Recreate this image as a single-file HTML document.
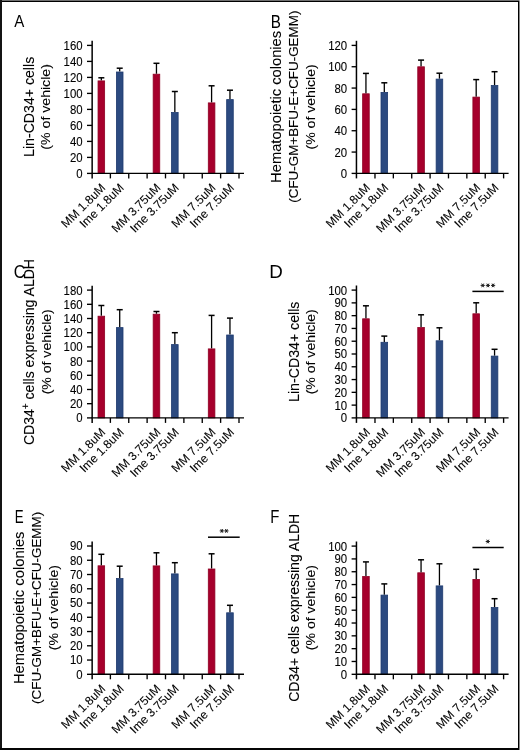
<!DOCTYPE html>
<html><head><meta charset="utf-8"><style>
html,body{margin:0;padding:0;background:#fff;}
body{width:520px;height:750px;overflow:hidden;position:relative;}
svg{position:absolute;left:0;top:0;will-change:transform;}
text{font-family:"Liberation Sans", sans-serif;fill:#000;stroke:#000;stroke-width:0.1px;}
</style></head><body>
<svg width="520" height="750" viewBox="0 0 520 750">
<line x1="101.34" y1="77.8" x2="101.34" y2="80.5" stroke="#000" stroke-width="1.3"/>
<line x1="98.34" y1="77.8" x2="104.34" y2="77.8" stroke="#000" stroke-width="1.5"/>
<rect x="98.04" y="80.9" width="6.6" height="92.5" fill="#a6002c" stroke="#8f0024" stroke-width="0.8"/>
<line x1="119.71" y1="68.2" x2="119.71" y2="71.6" stroke="#000" stroke-width="1.3"/>
<line x1="116.71" y1="68.2" x2="122.71" y2="68.2" stroke="#000" stroke-width="1.5"/>
<rect x="116.41" y="72" width="6.6" height="101.4" fill="#2c4a80" stroke="#1e3a6e" stroke-width="0.8"/>
<line x1="156.46" y1="63.3" x2="156.46" y2="73.8" stroke="#000" stroke-width="1.3"/>
<line x1="153.46" y1="63.3" x2="159.46" y2="63.3" stroke="#000" stroke-width="1.5"/>
<rect x="153.16" y="74.2" width="6.6" height="99.2" fill="#a6002c" stroke="#8f0024" stroke-width="0.8"/>
<line x1="174.84" y1="91.5" x2="174.84" y2="112.1" stroke="#000" stroke-width="1.3"/>
<line x1="171.84" y1="91.5" x2="177.84" y2="91.5" stroke="#000" stroke-width="1.5"/>
<rect x="171.54" y="112.5" width="6.6" height="60.9" fill="#2c4a80" stroke="#1e3a6e" stroke-width="0.8"/>
<line x1="211.59" y1="85.8" x2="211.59" y2="102.5" stroke="#000" stroke-width="1.3"/>
<line x1="208.59" y1="85.8" x2="214.59" y2="85.8" stroke="#000" stroke-width="1.5"/>
<rect x="208.29" y="102.9" width="6.6" height="70.5" fill="#a6002c" stroke="#8f0024" stroke-width="0.8"/>
<line x1="229.96" y1="90.2" x2="229.96" y2="99.2" stroke="#000" stroke-width="1.3"/>
<line x1="226.96" y1="90.2" x2="232.96" y2="90.2" stroke="#000" stroke-width="1.5"/>
<rect x="226.66" y="99.6" width="6.6" height="73.8" fill="#2c4a80" stroke="#1e3a6e" stroke-width="0.8"/>
<line x1="92.15" y1="40.8" x2="92.15" y2="178.4" stroke="#000" stroke-width="1.5"/>
<line x1="91.5" y1="173.4" x2="244" y2="173.4" stroke="#000" stroke-width="1.4"/>
<line x1="110.38" y1="173.4" x2="110.38" y2="178.4" stroke="#000" stroke-width="1.35"/>
<line x1="128.75" y1="173.4" x2="128.75" y2="178.4" stroke="#000" stroke-width="1.35"/>
<line x1="147.12" y1="173.4" x2="147.12" y2="178.4" stroke="#000" stroke-width="1.35"/>
<line x1="165.5" y1="173.4" x2="165.5" y2="178.4" stroke="#000" stroke-width="1.35"/>
<line x1="183.88" y1="173.4" x2="183.88" y2="178.4" stroke="#000" stroke-width="1.35"/>
<line x1="202.25" y1="173.4" x2="202.25" y2="178.4" stroke="#000" stroke-width="1.35"/>
<line x1="220.62" y1="173.4" x2="220.62" y2="178.4" stroke="#000" stroke-width="1.35"/>
<line x1="239" y1="173.4" x2="239" y2="178.4" stroke="#000" stroke-width="1.35"/>
<line x1="87" y1="173.4" x2="92" y2="173.4" stroke="#000" stroke-width="1.35"/>
<text x="82.6" y="177.85" text-anchor="end" font-size="12.0" textLength="6.34" lengthAdjust="spacingAndGlyphs">0</text>
<line x1="87" y1="157.4" x2="92" y2="157.4" stroke="#000" stroke-width="1.35"/>
<text x="82.6" y="161.85" text-anchor="end" font-size="12.0" textLength="12.68" lengthAdjust="spacingAndGlyphs">20</text>
<line x1="87" y1="141.4" x2="92" y2="141.4" stroke="#000" stroke-width="1.35"/>
<text x="82.6" y="145.85" text-anchor="end" font-size="12.0" textLength="12.68" lengthAdjust="spacingAndGlyphs">40</text>
<line x1="87" y1="125.4" x2="92" y2="125.4" stroke="#000" stroke-width="1.35"/>
<text x="82.6" y="129.85" text-anchor="end" font-size="12.0" textLength="12.68" lengthAdjust="spacingAndGlyphs">60</text>
<line x1="87" y1="109.4" x2="92" y2="109.4" stroke="#000" stroke-width="1.35"/>
<text x="82.6" y="113.85" text-anchor="end" font-size="12.0" textLength="12.68" lengthAdjust="spacingAndGlyphs">80</text>
<line x1="87" y1="93.4" x2="92" y2="93.4" stroke="#000" stroke-width="1.35"/>
<text x="82.6" y="97.85" text-anchor="end" font-size="12.0" textLength="19.02" lengthAdjust="spacingAndGlyphs">100</text>
<line x1="87" y1="77.4" x2="92" y2="77.4" stroke="#000" stroke-width="1.35"/>
<text x="82.6" y="81.85" text-anchor="end" font-size="12.0" textLength="19.02" lengthAdjust="spacingAndGlyphs">120</text>
<line x1="87" y1="61.4" x2="92" y2="61.4" stroke="#000" stroke-width="1.35"/>
<text x="82.6" y="65.85" text-anchor="end" font-size="12.0" textLength="19.02" lengthAdjust="spacingAndGlyphs">140</text>
<line x1="87" y1="45.4" x2="92" y2="45.4" stroke="#000" stroke-width="1.35"/>
<text x="82.6" y="49.85" text-anchor="end" font-size="12.0" textLength="19.02" lengthAdjust="spacingAndGlyphs">160</text>
<text x="106.19" y="188.5" text-anchor="end" font-size="12.0" transform="rotate(-45 106.19 188.5)">MM 1.8uM</text>
<text x="124.56" y="188.5" text-anchor="end" font-size="12.0" transform="rotate(-45 124.56 188.5)">Ime 1.8uM</text>
<text x="161.31" y="188.5" text-anchor="end" font-size="12.0" transform="rotate(-45 161.31 188.5)">MM 3.75uM</text>
<text x="179.69" y="188.5" text-anchor="end" font-size="12.0" transform="rotate(-45 179.69 188.5)">Ime 3.75uM</text>
<text x="216.44" y="188.5" text-anchor="end" font-size="12.0" transform="rotate(-45 216.44 188.5)">MM 7.5uM</text>
<text x="234.81" y="188.5" text-anchor="end" font-size="12.0" transform="rotate(-45 234.81 188.5)">Ime 7.5uM</text>
<text x="0" y="0" font-size="17" transform="translate(14.17 27.1) scale(0.889 1)" style="stroke-width:0">A</text>
<text x="0" y="0" font-size="14.5" textLength="100.15" lengthAdjust="spacingAndGlyphs" transform="translate(34.1 156.93) rotate(-90)">Lin-CD34+ cells</text>
<text x="0" y="0" font-size="13.6" textLength="85.53" lengthAdjust="spacingAndGlyphs" transform="translate(50.4 149.65) rotate(-90)">(% of vehicle)</text>
<line x1="365.94" y1="73.4" x2="365.94" y2="93.4" stroke="#000" stroke-width="1.3"/>
<line x1="362.94" y1="73.4" x2="368.94" y2="73.4" stroke="#000" stroke-width="1.5"/>
<rect x="362.64" y="93.8" width="6.6" height="79.6" fill="#a6002c" stroke="#8f0024" stroke-width="0.8"/>
<line x1="384.31" y1="82.8" x2="384.31" y2="92" stroke="#000" stroke-width="1.3"/>
<line x1="381.31" y1="82.8" x2="387.31" y2="82.8" stroke="#000" stroke-width="1.5"/>
<rect x="381.01" y="92.4" width="6.6" height="81" fill="#2c4a80" stroke="#1e3a6e" stroke-width="0.8"/>
<line x1="421.06" y1="60.1" x2="421.06" y2="66.4" stroke="#000" stroke-width="1.3"/>
<line x1="418.06" y1="60.1" x2="424.06" y2="60.1" stroke="#000" stroke-width="1.5"/>
<rect x="417.76" y="66.8" width="6.6" height="106.6" fill="#a6002c" stroke="#8f0024" stroke-width="0.8"/>
<line x1="439.44" y1="73.2" x2="439.44" y2="78.7" stroke="#000" stroke-width="1.3"/>
<line x1="436.44" y1="73.2" x2="442.44" y2="73.2" stroke="#000" stroke-width="1.5"/>
<rect x="436.14" y="79.1" width="6.6" height="94.3" fill="#2c4a80" stroke="#1e3a6e" stroke-width="0.8"/>
<line x1="476.19" y1="79.6" x2="476.19" y2="96.7" stroke="#000" stroke-width="1.3"/>
<line x1="473.19" y1="79.6" x2="479.19" y2="79.6" stroke="#000" stroke-width="1.5"/>
<rect x="472.89" y="97.1" width="6.6" height="76.3" fill="#a6002c" stroke="#8f0024" stroke-width="0.8"/>
<line x1="494.56" y1="71.7" x2="494.56" y2="85.1" stroke="#000" stroke-width="1.3"/>
<line x1="491.56" y1="71.7" x2="497.56" y2="71.7" stroke="#000" stroke-width="1.5"/>
<rect x="491.26" y="85.5" width="6.6" height="87.9" fill="#2c4a80" stroke="#1e3a6e" stroke-width="0.8"/>
<line x1="356.45" y1="40.8" x2="356.45" y2="178.4" stroke="#000" stroke-width="1.5"/>
<line x1="356.1" y1="173.4" x2="508.6" y2="173.4" stroke="#000" stroke-width="1.4"/>
<line x1="374.98" y1="173.4" x2="374.98" y2="178.4" stroke="#000" stroke-width="1.35"/>
<line x1="393.35" y1="173.4" x2="393.35" y2="178.4" stroke="#000" stroke-width="1.35"/>
<line x1="411.73" y1="173.4" x2="411.73" y2="178.4" stroke="#000" stroke-width="1.35"/>
<line x1="430.1" y1="173.4" x2="430.1" y2="178.4" stroke="#000" stroke-width="1.35"/>
<line x1="448.48" y1="173.4" x2="448.48" y2="178.4" stroke="#000" stroke-width="1.35"/>
<line x1="466.85" y1="173.4" x2="466.85" y2="178.4" stroke="#000" stroke-width="1.35"/>
<line x1="485.23" y1="173.4" x2="485.23" y2="178.4" stroke="#000" stroke-width="1.35"/>
<line x1="503.6" y1="173.4" x2="503.6" y2="178.4" stroke="#000" stroke-width="1.35"/>
<line x1="351.6" y1="173.4" x2="356.6" y2="173.4" stroke="#000" stroke-width="1.35"/>
<text x="347.2" y="177.85" text-anchor="end" font-size="12.0" textLength="6.34" lengthAdjust="spacingAndGlyphs">0</text>
<line x1="351.6" y1="152.07" x2="356.6" y2="152.07" stroke="#000" stroke-width="1.35"/>
<text x="347.2" y="156.52" text-anchor="end" font-size="12.0" textLength="12.68" lengthAdjust="spacingAndGlyphs">20</text>
<line x1="351.6" y1="130.73" x2="356.6" y2="130.73" stroke="#000" stroke-width="1.35"/>
<text x="347.2" y="135.18" text-anchor="end" font-size="12.0" textLength="12.68" lengthAdjust="spacingAndGlyphs">40</text>
<line x1="351.6" y1="109.4" x2="356.6" y2="109.4" stroke="#000" stroke-width="1.35"/>
<text x="347.2" y="113.85" text-anchor="end" font-size="12.0" textLength="12.68" lengthAdjust="spacingAndGlyphs">60</text>
<line x1="351.6" y1="88.07" x2="356.6" y2="88.07" stroke="#000" stroke-width="1.35"/>
<text x="347.2" y="92.52" text-anchor="end" font-size="12.0" textLength="12.68" lengthAdjust="spacingAndGlyphs">80</text>
<line x1="351.6" y1="66.73" x2="356.6" y2="66.73" stroke="#000" stroke-width="1.35"/>
<text x="347.2" y="71.18" text-anchor="end" font-size="12.0" textLength="19.02" lengthAdjust="spacingAndGlyphs">100</text>
<line x1="351.6" y1="45.4" x2="356.6" y2="45.4" stroke="#000" stroke-width="1.35"/>
<text x="347.2" y="49.85" text-anchor="end" font-size="12.0" textLength="19.02" lengthAdjust="spacingAndGlyphs">120</text>
<text x="370.79" y="188.5" text-anchor="end" font-size="12.0" transform="rotate(-45 370.79 188.5)">MM 1.8uM</text>
<text x="389.16" y="188.5" text-anchor="end" font-size="12.0" transform="rotate(-45 389.16 188.5)">Ime 1.8uM</text>
<text x="425.91" y="188.5" text-anchor="end" font-size="12.0" transform="rotate(-45 425.91 188.5)">MM 3.75uM</text>
<text x="444.29" y="188.5" text-anchor="end" font-size="12.0" transform="rotate(-45 444.29 188.5)">Ime 3.75uM</text>
<text x="481.04" y="188.5" text-anchor="end" font-size="12.0" transform="rotate(-45 481.04 188.5)">MM 7.5uM</text>
<text x="499.41" y="188.5" text-anchor="end" font-size="12.0" transform="rotate(-45 499.41 188.5)">Ime 7.5uM</text>
<text x="0" y="0" font-size="17.8" transform="translate(270.75 28) scale(0.857 1)" style="stroke-width:0">B</text>
<text x="0" y="0" font-size="14" textLength="151.98" lengthAdjust="spacingAndGlyphs" transform="translate(281.2 182.88) rotate(-90)">Hematopoietic colonies</text>
<text x="0" y="0" font-size="13.5" textLength="192.04" lengthAdjust="spacingAndGlyphs" transform="translate(297.9 202.7) rotate(-90)">(CFU-GM+BFU-E+CFU-GEMM)</text>
<text x="0" y="0" font-size="13.6" textLength="85.33" lengthAdjust="spacingAndGlyphs" transform="translate(315.2 149.55) rotate(-90)">(% of vehicle)</text>
<line x1="101.34" y1="305.5" x2="101.34" y2="315.8" stroke="#000" stroke-width="1.3"/>
<line x1="98.34" y1="305.5" x2="104.34" y2="305.5" stroke="#000" stroke-width="1.5"/>
<rect x="98.04" y="316.2" width="6.6" height="101.7" fill="#a6002c" stroke="#8f0024" stroke-width="0.8"/>
<line x1="119.71" y1="309.7" x2="119.71" y2="327.2" stroke="#000" stroke-width="1.3"/>
<line x1="116.71" y1="309.7" x2="122.71" y2="309.7" stroke="#000" stroke-width="1.5"/>
<rect x="116.41" y="327.6" width="6.6" height="90.3" fill="#2c4a80" stroke="#1e3a6e" stroke-width="0.8"/>
<line x1="156.46" y1="311.5" x2="156.46" y2="313.8" stroke="#000" stroke-width="1.3"/>
<line x1="153.46" y1="311.5" x2="159.46" y2="311.5" stroke="#000" stroke-width="1.5"/>
<rect x="153.16" y="314.2" width="6.6" height="103.7" fill="#a6002c" stroke="#8f0024" stroke-width="0.8"/>
<line x1="174.84" y1="332.7" x2="174.84" y2="344.2" stroke="#000" stroke-width="1.3"/>
<line x1="171.84" y1="332.7" x2="177.84" y2="332.7" stroke="#000" stroke-width="1.5"/>
<rect x="171.54" y="344.6" width="6.6" height="73.3" fill="#2c4a80" stroke="#1e3a6e" stroke-width="0.8"/>
<line x1="211.59" y1="315.4" x2="211.59" y2="348.5" stroke="#000" stroke-width="1.3"/>
<line x1="208.59" y1="315.4" x2="214.59" y2="315.4" stroke="#000" stroke-width="1.5"/>
<rect x="208.29" y="348.9" width="6.6" height="69" fill="#a6002c" stroke="#8f0024" stroke-width="0.8"/>
<line x1="229.96" y1="318.1" x2="229.96" y2="334.6" stroke="#000" stroke-width="1.3"/>
<line x1="226.96" y1="318.1" x2="232.96" y2="318.1" stroke="#000" stroke-width="1.5"/>
<rect x="226.66" y="335" width="6.6" height="82.9" fill="#2c4a80" stroke="#1e3a6e" stroke-width="0.8"/>
<line x1="92.15" y1="285.8" x2="92.15" y2="422.9" stroke="#000" stroke-width="1.5"/>
<line x1="91.5" y1="417.9" x2="244" y2="417.9" stroke="#000" stroke-width="1.4"/>
<line x1="110.38" y1="417.9" x2="110.38" y2="422.9" stroke="#000" stroke-width="1.35"/>
<line x1="128.75" y1="417.9" x2="128.75" y2="422.9" stroke="#000" stroke-width="1.35"/>
<line x1="147.12" y1="417.9" x2="147.12" y2="422.9" stroke="#000" stroke-width="1.35"/>
<line x1="165.5" y1="417.9" x2="165.5" y2="422.9" stroke="#000" stroke-width="1.35"/>
<line x1="183.88" y1="417.9" x2="183.88" y2="422.9" stroke="#000" stroke-width="1.35"/>
<line x1="202.25" y1="417.9" x2="202.25" y2="422.9" stroke="#000" stroke-width="1.35"/>
<line x1="220.62" y1="417.9" x2="220.62" y2="422.9" stroke="#000" stroke-width="1.35"/>
<line x1="239" y1="417.9" x2="239" y2="422.9" stroke="#000" stroke-width="1.35"/>
<line x1="87" y1="417.9" x2="92" y2="417.9" stroke="#000" stroke-width="1.35"/>
<text x="82.6" y="422.35" text-anchor="end" font-size="12.0" textLength="6.34" lengthAdjust="spacingAndGlyphs">0</text>
<line x1="87" y1="403.7" x2="92" y2="403.7" stroke="#000" stroke-width="1.35"/>
<text x="82.6" y="408.15" text-anchor="end" font-size="12.0" textLength="12.68" lengthAdjust="spacingAndGlyphs">20</text>
<line x1="87" y1="389.5" x2="92" y2="389.5" stroke="#000" stroke-width="1.35"/>
<text x="82.6" y="393.95" text-anchor="end" font-size="12.0" textLength="12.68" lengthAdjust="spacingAndGlyphs">40</text>
<line x1="87" y1="375.3" x2="92" y2="375.3" stroke="#000" stroke-width="1.35"/>
<text x="82.6" y="379.75" text-anchor="end" font-size="12.0" textLength="12.68" lengthAdjust="spacingAndGlyphs">60</text>
<line x1="87" y1="361.1" x2="92" y2="361.1" stroke="#000" stroke-width="1.35"/>
<text x="82.6" y="365.55" text-anchor="end" font-size="12.0" textLength="12.68" lengthAdjust="spacingAndGlyphs">80</text>
<line x1="87" y1="346.9" x2="92" y2="346.9" stroke="#000" stroke-width="1.35"/>
<text x="82.6" y="351.35" text-anchor="end" font-size="12.0" textLength="19.02" lengthAdjust="spacingAndGlyphs">100</text>
<line x1="87" y1="332.7" x2="92" y2="332.7" stroke="#000" stroke-width="1.35"/>
<text x="82.6" y="337.15" text-anchor="end" font-size="12.0" textLength="19.02" lengthAdjust="spacingAndGlyphs">120</text>
<line x1="87" y1="318.5" x2="92" y2="318.5" stroke="#000" stroke-width="1.35"/>
<text x="82.6" y="322.95" text-anchor="end" font-size="12.0" textLength="19.02" lengthAdjust="spacingAndGlyphs">140</text>
<line x1="87" y1="304.3" x2="92" y2="304.3" stroke="#000" stroke-width="1.35"/>
<text x="82.6" y="308.75" text-anchor="end" font-size="12.0" textLength="19.02" lengthAdjust="spacingAndGlyphs">160</text>
<line x1="87" y1="290.1" x2="92" y2="290.1" stroke="#000" stroke-width="1.35"/>
<text x="82.6" y="294.55" text-anchor="end" font-size="12.0" textLength="19.02" lengthAdjust="spacingAndGlyphs">180</text>
<text x="106.19" y="433" text-anchor="end" font-size="12.0" transform="rotate(-45 106.19 433)">MM 1.8uM</text>
<text x="124.56" y="433" text-anchor="end" font-size="12.0" transform="rotate(-45 124.56 433)">Ime 1.8uM</text>
<text x="161.31" y="433" text-anchor="end" font-size="12.0" transform="rotate(-45 161.31 433)">MM 3.75uM</text>
<text x="179.69" y="433" text-anchor="end" font-size="12.0" transform="rotate(-45 179.69 433)">Ime 3.75uM</text>
<text x="216.44" y="433" text-anchor="end" font-size="12.0" transform="rotate(-45 216.44 433)">MM 7.5uM</text>
<text x="234.81" y="433" text-anchor="end" font-size="12.0" transform="rotate(-45 234.81 433)">Ime 7.5uM</text>
<text x="0" y="0" font-size="17.8" transform="translate(13.68 278.2) scale(0.898 1)" style="stroke-width:0">C</text>
<text x="0" y="0" font-size="14.5" textLength="186.05" lengthAdjust="spacingAndGlyphs" transform="translate(34 445.09) rotate(-90)">CD34<tspan font-size="10.5" dy="-5.5">+</tspan><tspan dy="5.5"> cells expressing ALDH</tspan></text>
<text x="0" y="0" font-size="13.6" textLength="85.12" lengthAdjust="spacingAndGlyphs" transform="translate(50.5 394.34) rotate(-90)">(% of vehicle)</text>
<line x1="365.94" y1="305.8" x2="365.94" y2="318.4" stroke="#000" stroke-width="1.3"/>
<line x1="362.94" y1="305.8" x2="368.94" y2="305.8" stroke="#000" stroke-width="1.5"/>
<rect x="362.64" y="318.8" width="6.6" height="99.1" fill="#a6002c" stroke="#8f0024" stroke-width="0.8"/>
<line x1="384.31" y1="336.1" x2="384.31" y2="341.9" stroke="#000" stroke-width="1.3"/>
<line x1="381.31" y1="336.1" x2="387.31" y2="336.1" stroke="#000" stroke-width="1.5"/>
<rect x="381.01" y="342.3" width="6.6" height="75.6" fill="#2c4a80" stroke="#1e3a6e" stroke-width="0.8"/>
<line x1="421.06" y1="314.8" x2="421.06" y2="327.1" stroke="#000" stroke-width="1.3"/>
<line x1="418.06" y1="314.8" x2="424.06" y2="314.8" stroke="#000" stroke-width="1.5"/>
<rect x="417.76" y="327.5" width="6.6" height="90.4" fill="#a6002c" stroke="#8f0024" stroke-width="0.8"/>
<line x1="439.44" y1="327.8" x2="439.44" y2="340.4" stroke="#000" stroke-width="1.3"/>
<line x1="436.44" y1="327.8" x2="442.44" y2="327.8" stroke="#000" stroke-width="1.5"/>
<rect x="436.14" y="340.8" width="6.6" height="77.1" fill="#2c4a80" stroke="#1e3a6e" stroke-width="0.8"/>
<line x1="476.19" y1="302.8" x2="476.19" y2="313.4" stroke="#000" stroke-width="1.3"/>
<line x1="473.19" y1="302.8" x2="479.19" y2="302.8" stroke="#000" stroke-width="1.5"/>
<rect x="472.89" y="313.8" width="6.6" height="104.1" fill="#a6002c" stroke="#8f0024" stroke-width="0.8"/>
<line x1="494.56" y1="349.3" x2="494.56" y2="355.7" stroke="#000" stroke-width="1.3"/>
<line x1="491.56" y1="349.3" x2="497.56" y2="349.3" stroke="#000" stroke-width="1.5"/>
<rect x="491.26" y="356.1" width="6.6" height="61.8" fill="#2c4a80" stroke="#1e3a6e" stroke-width="0.8"/>
<line x1="356.45" y1="285.5" x2="356.45" y2="422.9" stroke="#000" stroke-width="1.5"/>
<line x1="356.1" y1="417.9" x2="508.6" y2="417.9" stroke="#000" stroke-width="1.4"/>
<line x1="374.98" y1="417.9" x2="374.98" y2="422.9" stroke="#000" stroke-width="1.35"/>
<line x1="393.35" y1="417.9" x2="393.35" y2="422.9" stroke="#000" stroke-width="1.35"/>
<line x1="411.73" y1="417.9" x2="411.73" y2="422.9" stroke="#000" stroke-width="1.35"/>
<line x1="430.1" y1="417.9" x2="430.1" y2="422.9" stroke="#000" stroke-width="1.35"/>
<line x1="448.48" y1="417.9" x2="448.48" y2="422.9" stroke="#000" stroke-width="1.35"/>
<line x1="466.85" y1="417.9" x2="466.85" y2="422.9" stroke="#000" stroke-width="1.35"/>
<line x1="485.23" y1="417.9" x2="485.23" y2="422.9" stroke="#000" stroke-width="1.35"/>
<line x1="503.6" y1="417.9" x2="503.6" y2="422.9" stroke="#000" stroke-width="1.35"/>
<line x1="351.6" y1="417.9" x2="356.6" y2="417.9" stroke="#000" stroke-width="1.35"/>
<text x="347.2" y="422.35" text-anchor="end" font-size="12.0" textLength="6.34" lengthAdjust="spacingAndGlyphs">0</text>
<line x1="351.6" y1="405.12" x2="356.6" y2="405.12" stroke="#000" stroke-width="1.35"/>
<text x="347.2" y="409.57" text-anchor="end" font-size="12.0" textLength="12.68" lengthAdjust="spacingAndGlyphs">10</text>
<line x1="351.6" y1="392.34" x2="356.6" y2="392.34" stroke="#000" stroke-width="1.35"/>
<text x="347.2" y="396.79" text-anchor="end" font-size="12.0" textLength="12.68" lengthAdjust="spacingAndGlyphs">20</text>
<line x1="351.6" y1="379.56" x2="356.6" y2="379.56" stroke="#000" stroke-width="1.35"/>
<text x="347.2" y="384.01" text-anchor="end" font-size="12.0" textLength="12.68" lengthAdjust="spacingAndGlyphs">30</text>
<line x1="351.6" y1="366.78" x2="356.6" y2="366.78" stroke="#000" stroke-width="1.35"/>
<text x="347.2" y="371.23" text-anchor="end" font-size="12.0" textLength="12.68" lengthAdjust="spacingAndGlyphs">40</text>
<line x1="351.6" y1="354" x2="356.6" y2="354" stroke="#000" stroke-width="1.35"/>
<text x="347.2" y="358.45" text-anchor="end" font-size="12.0" textLength="12.68" lengthAdjust="spacingAndGlyphs">50</text>
<line x1="351.6" y1="341.22" x2="356.6" y2="341.22" stroke="#000" stroke-width="1.35"/>
<text x="347.2" y="345.67" text-anchor="end" font-size="12.0" textLength="12.68" lengthAdjust="spacingAndGlyphs">60</text>
<line x1="351.6" y1="328.44" x2="356.6" y2="328.44" stroke="#000" stroke-width="1.35"/>
<text x="347.2" y="332.89" text-anchor="end" font-size="12.0" textLength="12.68" lengthAdjust="spacingAndGlyphs">70</text>
<line x1="351.6" y1="315.66" x2="356.6" y2="315.66" stroke="#000" stroke-width="1.35"/>
<text x="347.2" y="320.11" text-anchor="end" font-size="12.0" textLength="12.68" lengthAdjust="spacingAndGlyphs">80</text>
<line x1="351.6" y1="302.88" x2="356.6" y2="302.88" stroke="#000" stroke-width="1.35"/>
<text x="347.2" y="307.33" text-anchor="end" font-size="12.0" textLength="12.68" lengthAdjust="spacingAndGlyphs">90</text>
<line x1="351.6" y1="290.1" x2="356.6" y2="290.1" stroke="#000" stroke-width="1.35"/>
<text x="347.2" y="294.55" text-anchor="end" font-size="12.0" textLength="19.02" lengthAdjust="spacingAndGlyphs">100</text>
<text x="370.79" y="433" text-anchor="end" font-size="12.0" transform="rotate(-45 370.79 433)">MM 1.8uM</text>
<text x="389.16" y="433" text-anchor="end" font-size="12.0" transform="rotate(-45 389.16 433)">Ime 1.8uM</text>
<text x="425.91" y="433" text-anchor="end" font-size="12.0" transform="rotate(-45 425.91 433)">MM 3.75uM</text>
<text x="444.29" y="433" text-anchor="end" font-size="12.0" transform="rotate(-45 444.29 433)">Ime 3.75uM</text>
<text x="481.04" y="433" text-anchor="end" font-size="12.0" transform="rotate(-45 481.04 433)">MM 7.5uM</text>
<text x="499.41" y="433" text-anchor="end" font-size="12.0" transform="rotate(-45 499.41 433)">Ime 7.5uM</text>
<text x="0" y="0" font-size="17.8" transform="translate(269.26 278.3) scale(1.055 1)" style="stroke-width:0">D</text>
<text x="0" y="0" font-size="14.5" textLength="100.35" lengthAdjust="spacingAndGlyphs" transform="translate(298.7 401.93) rotate(-90)">Lin-CD34+ cells</text>
<text x="0" y="0" font-size="13.6" textLength="85.12" lengthAdjust="spacingAndGlyphs" transform="translate(315.2 394.34) rotate(-90)">(% of vehicle)</text>
<line x1="472.4" y1="291.4" x2="503.7" y2="291.4" stroke="#000" stroke-width="1.5"/>
<path d="M480.6 285.4L484.8 285.4M481.65 283.58L483.75 287.22M483.75 283.58L481.65 287.22" stroke="#222" stroke-width="1" fill="none"/>
<circle cx="482.7" cy="285.4" r="0.9" fill="#222"/>
<path d="M485.8 285.4L490 285.4M486.85 283.58L488.95 287.22M488.95 283.58L486.85 287.22" stroke="#222" stroke-width="1" fill="none"/>
<circle cx="487.9" cy="285.4" r="0.9" fill="#222"/>
<path d="M491 285.4L495.2 285.4M492.05 283.58L494.15 287.22M494.15 283.58L492.05 287.22" stroke="#222" stroke-width="1" fill="none"/>
<circle cx="493.1" cy="285.4" r="0.9" fill="#222"/>
<line x1="101.34" y1="554.3" x2="101.34" y2="565.4" stroke="#000" stroke-width="1.3"/>
<line x1="98.34" y1="554.3" x2="104.34" y2="554.3" stroke="#000" stroke-width="1.5"/>
<rect x="98.04" y="565.8" width="6.6" height="108.5" fill="#a6002c" stroke="#8f0024" stroke-width="0.8"/>
<line x1="119.71" y1="566.2" x2="119.71" y2="578.2" stroke="#000" stroke-width="1.3"/>
<line x1="116.71" y1="566.2" x2="122.71" y2="566.2" stroke="#000" stroke-width="1.5"/>
<rect x="116.41" y="578.6" width="6.6" height="95.7" fill="#2c4a80" stroke="#1e3a6e" stroke-width="0.8"/>
<line x1="156.46" y1="552.8" x2="156.46" y2="565.5" stroke="#000" stroke-width="1.3"/>
<line x1="153.46" y1="552.8" x2="159.46" y2="552.8" stroke="#000" stroke-width="1.5"/>
<rect x="153.16" y="565.9" width="6.6" height="108.4" fill="#a6002c" stroke="#8f0024" stroke-width="0.8"/>
<line x1="174.84" y1="562.7" x2="174.84" y2="573.5" stroke="#000" stroke-width="1.3"/>
<line x1="171.84" y1="562.7" x2="177.84" y2="562.7" stroke="#000" stroke-width="1.5"/>
<rect x="171.54" y="573.9" width="6.6" height="100.4" fill="#2c4a80" stroke="#1e3a6e" stroke-width="0.8"/>
<line x1="211.59" y1="553.8" x2="211.59" y2="568.6" stroke="#000" stroke-width="1.3"/>
<line x1="208.59" y1="553.8" x2="214.59" y2="553.8" stroke="#000" stroke-width="1.5"/>
<rect x="208.29" y="569" width="6.6" height="105.3" fill="#a6002c" stroke="#8f0024" stroke-width="0.8"/>
<line x1="229.96" y1="605.3" x2="229.96" y2="612.4" stroke="#000" stroke-width="1.3"/>
<line x1="226.96" y1="605.3" x2="232.96" y2="605.3" stroke="#000" stroke-width="1.5"/>
<rect x="226.66" y="612.8" width="6.6" height="61.5" fill="#2c4a80" stroke="#1e3a6e" stroke-width="0.8"/>
<line x1="92.15" y1="541.5" x2="92.15" y2="679.3" stroke="#000" stroke-width="1.5"/>
<line x1="91.5" y1="674.3" x2="244" y2="674.3" stroke="#000" stroke-width="1.4"/>
<line x1="110.38" y1="674.3" x2="110.38" y2="679.3" stroke="#000" stroke-width="1.35"/>
<line x1="128.75" y1="674.3" x2="128.75" y2="679.3" stroke="#000" stroke-width="1.35"/>
<line x1="147.12" y1="674.3" x2="147.12" y2="679.3" stroke="#000" stroke-width="1.35"/>
<line x1="165.5" y1="674.3" x2="165.5" y2="679.3" stroke="#000" stroke-width="1.35"/>
<line x1="183.88" y1="674.3" x2="183.88" y2="679.3" stroke="#000" stroke-width="1.35"/>
<line x1="202.25" y1="674.3" x2="202.25" y2="679.3" stroke="#000" stroke-width="1.35"/>
<line x1="220.62" y1="674.3" x2="220.62" y2="679.3" stroke="#000" stroke-width="1.35"/>
<line x1="239" y1="674.3" x2="239" y2="679.3" stroke="#000" stroke-width="1.35"/>
<line x1="87" y1="674.3" x2="92" y2="674.3" stroke="#000" stroke-width="1.35"/>
<text x="82.6" y="678.75" text-anchor="end" font-size="12.0" textLength="6.34" lengthAdjust="spacingAndGlyphs">0</text>
<line x1="87" y1="660.04" x2="92" y2="660.04" stroke="#000" stroke-width="1.35"/>
<text x="82.6" y="664.49" text-anchor="end" font-size="12.0" textLength="12.68" lengthAdjust="spacingAndGlyphs">10</text>
<line x1="87" y1="645.79" x2="92" y2="645.79" stroke="#000" stroke-width="1.35"/>
<text x="82.6" y="650.24" text-anchor="end" font-size="12.0" textLength="12.68" lengthAdjust="spacingAndGlyphs">20</text>
<line x1="87" y1="631.53" x2="92" y2="631.53" stroke="#000" stroke-width="1.35"/>
<text x="82.6" y="635.98" text-anchor="end" font-size="12.0" textLength="12.68" lengthAdjust="spacingAndGlyphs">30</text>
<line x1="87" y1="617.28" x2="92" y2="617.28" stroke="#000" stroke-width="1.35"/>
<text x="82.6" y="621.73" text-anchor="end" font-size="12.0" textLength="12.68" lengthAdjust="spacingAndGlyphs">40</text>
<line x1="87" y1="603.02" x2="92" y2="603.02" stroke="#000" stroke-width="1.35"/>
<text x="82.6" y="607.47" text-anchor="end" font-size="12.0" textLength="12.68" lengthAdjust="spacingAndGlyphs">50</text>
<line x1="87" y1="588.77" x2="92" y2="588.77" stroke="#000" stroke-width="1.35"/>
<text x="82.6" y="593.22" text-anchor="end" font-size="12.0" textLength="12.68" lengthAdjust="spacingAndGlyphs">60</text>
<line x1="87" y1="574.51" x2="92" y2="574.51" stroke="#000" stroke-width="1.35"/>
<text x="82.6" y="578.96" text-anchor="end" font-size="12.0" textLength="12.68" lengthAdjust="spacingAndGlyphs">70</text>
<line x1="87" y1="560.26" x2="92" y2="560.26" stroke="#000" stroke-width="1.35"/>
<text x="82.6" y="564.71" text-anchor="end" font-size="12.0" textLength="12.68" lengthAdjust="spacingAndGlyphs">80</text>
<line x1="87" y1="546" x2="92" y2="546" stroke="#000" stroke-width="1.35"/>
<text x="82.6" y="550.45" text-anchor="end" font-size="12.0" textLength="12.68" lengthAdjust="spacingAndGlyphs">90</text>
<text x="106.19" y="689.4" text-anchor="end" font-size="12.0" transform="rotate(-45 106.19 689.4)">MM 1.8uM</text>
<text x="124.56" y="689.4" text-anchor="end" font-size="12.0" transform="rotate(-45 124.56 689.4)">Ime 1.8uM</text>
<text x="161.31" y="689.4" text-anchor="end" font-size="12.0" transform="rotate(-45 161.31 689.4)">MM 3.75uM</text>
<text x="179.69" y="689.4" text-anchor="end" font-size="12.0" transform="rotate(-45 179.69 689.4)">Ime 3.75uM</text>
<text x="216.44" y="689.4" text-anchor="end" font-size="12.0" transform="rotate(-45 216.44 689.4)">MM 7.5uM</text>
<text x="234.81" y="689.4" text-anchor="end" font-size="12.0" transform="rotate(-45 234.81 689.4)">Ime 7.5uM</text>
<text x="0" y="0" font-size="17.8" transform="translate(14.71 522.8) scale(0.748 1)" style="stroke-width:0">E</text>
<text x="0" y="0" font-size="14" textLength="152.58" lengthAdjust="spacingAndGlyphs" transform="translate(24.3 684.08) rotate(-90)">Hematopoietic colonies</text>
<text x="0" y="0" font-size="13.5" textLength="192.04" lengthAdjust="spacingAndGlyphs" transform="translate(40.9 703.9) rotate(-90)">(CFU-GM+BFU-E+CFU-GEMM)</text>
<text x="0" y="0" font-size="13.6" textLength="85.02" lengthAdjust="spacingAndGlyphs" transform="translate(57.9 650.14) rotate(-90)">(% of vehicle)</text>
<line x1="208" y1="537.2" x2="239.7" y2="537.2" stroke="#000" stroke-width="1.5"/>
<path d="M219.7 530.9L223.9 530.9M220.75 529.08L222.85 532.72M222.85 529.08L220.75 532.72" stroke="#222" stroke-width="1" fill="none"/>
<circle cx="221.8" cy="530.9" r="0.9" fill="#222"/>
<path d="M224.3 530.9L228.5 530.9M225.35 529.08L227.45 532.72M227.45 529.08L225.35 532.72" stroke="#222" stroke-width="1" fill="none"/>
<circle cx="226.4" cy="530.9" r="0.9" fill="#222"/>
<line x1="365.94" y1="561.9" x2="365.94" y2="576.1" stroke="#000" stroke-width="1.3"/>
<line x1="362.94" y1="561.9" x2="368.94" y2="561.9" stroke="#000" stroke-width="1.5"/>
<rect x="362.64" y="576.5" width="6.6" height="97.8" fill="#a6002c" stroke="#8f0024" stroke-width="0.8"/>
<line x1="384.31" y1="583.9" x2="384.31" y2="594.7" stroke="#000" stroke-width="1.3"/>
<line x1="381.31" y1="583.9" x2="387.31" y2="583.9" stroke="#000" stroke-width="1.5"/>
<rect x="381.01" y="595.1" width="6.6" height="79.2" fill="#2c4a80" stroke="#1e3a6e" stroke-width="0.8"/>
<line x1="421.06" y1="559.8" x2="421.06" y2="572.4" stroke="#000" stroke-width="1.3"/>
<line x1="418.06" y1="559.8" x2="424.06" y2="559.8" stroke="#000" stroke-width="1.5"/>
<rect x="417.76" y="572.8" width="6.6" height="101.5" fill="#a6002c" stroke="#8f0024" stroke-width="0.8"/>
<line x1="439.44" y1="563.8" x2="439.44" y2="585.5" stroke="#000" stroke-width="1.3"/>
<line x1="436.44" y1="563.8" x2="442.44" y2="563.8" stroke="#000" stroke-width="1.5"/>
<rect x="436.14" y="585.9" width="6.6" height="88.4" fill="#2c4a80" stroke="#1e3a6e" stroke-width="0.8"/>
<line x1="476.19" y1="569.3" x2="476.19" y2="579" stroke="#000" stroke-width="1.3"/>
<line x1="473.19" y1="569.3" x2="479.19" y2="569.3" stroke="#000" stroke-width="1.5"/>
<rect x="472.89" y="579.4" width="6.6" height="94.9" fill="#a6002c" stroke="#8f0024" stroke-width="0.8"/>
<line x1="494.56" y1="598.7" x2="494.56" y2="607.2" stroke="#000" stroke-width="1.3"/>
<line x1="491.56" y1="598.7" x2="497.56" y2="598.7" stroke="#000" stroke-width="1.5"/>
<rect x="491.26" y="607.6" width="6.6" height="66.7" fill="#2c4a80" stroke="#1e3a6e" stroke-width="0.8"/>
<line x1="356.45" y1="541.5" x2="356.45" y2="679.3" stroke="#000" stroke-width="1.5"/>
<line x1="356.1" y1="674.3" x2="508.6" y2="674.3" stroke="#000" stroke-width="1.4"/>
<line x1="374.98" y1="674.3" x2="374.98" y2="679.3" stroke="#000" stroke-width="1.35"/>
<line x1="393.35" y1="674.3" x2="393.35" y2="679.3" stroke="#000" stroke-width="1.35"/>
<line x1="411.73" y1="674.3" x2="411.73" y2="679.3" stroke="#000" stroke-width="1.35"/>
<line x1="430.1" y1="674.3" x2="430.1" y2="679.3" stroke="#000" stroke-width="1.35"/>
<line x1="448.48" y1="674.3" x2="448.48" y2="679.3" stroke="#000" stroke-width="1.35"/>
<line x1="466.85" y1="674.3" x2="466.85" y2="679.3" stroke="#000" stroke-width="1.35"/>
<line x1="485.23" y1="674.3" x2="485.23" y2="679.3" stroke="#000" stroke-width="1.35"/>
<line x1="503.6" y1="674.3" x2="503.6" y2="679.3" stroke="#000" stroke-width="1.35"/>
<line x1="351.6" y1="674.3" x2="356.6" y2="674.3" stroke="#000" stroke-width="1.35"/>
<text x="347.2" y="678.75" text-anchor="end" font-size="12.0" textLength="6.34" lengthAdjust="spacingAndGlyphs">0</text>
<line x1="351.6" y1="661.48" x2="356.6" y2="661.48" stroke="#000" stroke-width="1.35"/>
<text x="347.2" y="665.93" text-anchor="end" font-size="12.0" textLength="12.68" lengthAdjust="spacingAndGlyphs">10</text>
<line x1="351.6" y1="648.66" x2="356.6" y2="648.66" stroke="#000" stroke-width="1.35"/>
<text x="347.2" y="653.11" text-anchor="end" font-size="12.0" textLength="12.68" lengthAdjust="spacingAndGlyphs">20</text>
<line x1="351.6" y1="635.84" x2="356.6" y2="635.84" stroke="#000" stroke-width="1.35"/>
<text x="347.2" y="640.29" text-anchor="end" font-size="12.0" textLength="12.68" lengthAdjust="spacingAndGlyphs">30</text>
<line x1="351.6" y1="623.02" x2="356.6" y2="623.02" stroke="#000" stroke-width="1.35"/>
<text x="347.2" y="627.47" text-anchor="end" font-size="12.0" textLength="12.68" lengthAdjust="spacingAndGlyphs">40</text>
<line x1="351.6" y1="610.2" x2="356.6" y2="610.2" stroke="#000" stroke-width="1.35"/>
<text x="347.2" y="614.65" text-anchor="end" font-size="12.0" textLength="12.68" lengthAdjust="spacingAndGlyphs">50</text>
<line x1="351.6" y1="597.38" x2="356.6" y2="597.38" stroke="#000" stroke-width="1.35"/>
<text x="347.2" y="601.83" text-anchor="end" font-size="12.0" textLength="12.68" lengthAdjust="spacingAndGlyphs">60</text>
<line x1="351.6" y1="584.56" x2="356.6" y2="584.56" stroke="#000" stroke-width="1.35"/>
<text x="347.2" y="589.01" text-anchor="end" font-size="12.0" textLength="12.68" lengthAdjust="spacingAndGlyphs">70</text>
<line x1="351.6" y1="571.74" x2="356.6" y2="571.74" stroke="#000" stroke-width="1.35"/>
<text x="347.2" y="576.19" text-anchor="end" font-size="12.0" textLength="12.68" lengthAdjust="spacingAndGlyphs">80</text>
<line x1="351.6" y1="558.92" x2="356.6" y2="558.92" stroke="#000" stroke-width="1.35"/>
<text x="347.2" y="563.37" text-anchor="end" font-size="12.0" textLength="12.68" lengthAdjust="spacingAndGlyphs">90</text>
<line x1="351.6" y1="546.1" x2="356.6" y2="546.1" stroke="#000" stroke-width="1.35"/>
<text x="347.2" y="550.55" text-anchor="end" font-size="12.0" textLength="19.02" lengthAdjust="spacingAndGlyphs">100</text>
<text x="370.79" y="689.4" text-anchor="end" font-size="12.0" transform="rotate(-45 370.79 689.4)">MM 1.8uM</text>
<text x="389.16" y="689.4" text-anchor="end" font-size="12.0" transform="rotate(-45 389.16 689.4)">Ime 1.8uM</text>
<text x="425.91" y="689.4" text-anchor="end" font-size="12.0" transform="rotate(-45 425.91 689.4)">MM 3.75uM</text>
<text x="444.29" y="689.4" text-anchor="end" font-size="12.0" transform="rotate(-45 444.29 689.4)">Ime 3.75uM</text>
<text x="481.04" y="689.4" text-anchor="end" font-size="12.0" transform="rotate(-45 481.04 689.4)">MM 7.5uM</text>
<text x="499.41" y="689.4" text-anchor="end" font-size="12.0" transform="rotate(-45 499.41 689.4)">Ime 7.5uM</text>
<text x="0" y="0" font-size="17.8" transform="translate(270.37 523) scale(0.840 1)" style="stroke-width:0">F</text>
<text x="0" y="0" font-size="14.5" textLength="187.97" lengthAdjust="spacingAndGlyphs" transform="translate(298.8 701.8) rotate(-90)">CD34+ cells expressing ALDH</text>
<text x="0" y="0" font-size="13.6" textLength="85.02" lengthAdjust="spacingAndGlyphs" transform="translate(315.2 650.14) rotate(-90)">(% of vehicle)</text>
<line x1="472.4" y1="547.5" x2="503.7" y2="547.5" stroke="#000" stroke-width="1.5"/>
<path d="M485.7 541.5L489.9 541.5M486.75 539.68L488.85 543.32M488.85 539.68L486.75 543.32" stroke="#222" stroke-width="1" fill="none"/>
<circle cx="487.8" cy="541.5" r="0.9" fill="#222"/>
<g shape-rendering="crispEdges">
<rect x="0" y="0" width="520" height="1" fill="#707070"/>
<rect x="519" y="0" width="1" height="750" fill="#888"/>
<rect x="519" y="0" width="1" height="1" fill="#b0b0b0"/>
<rect x="0" y="1" width="519" height="1" fill="#000"/>
<rect x="518" y="1" width="1" height="749" fill="#000"/>
<rect x="0" y="0" width="2" height="750" fill="#141414"/>
<rect x="0" y="748" width="519" height="2" fill="#050505"/>
</g>
</svg>
</body></html>
